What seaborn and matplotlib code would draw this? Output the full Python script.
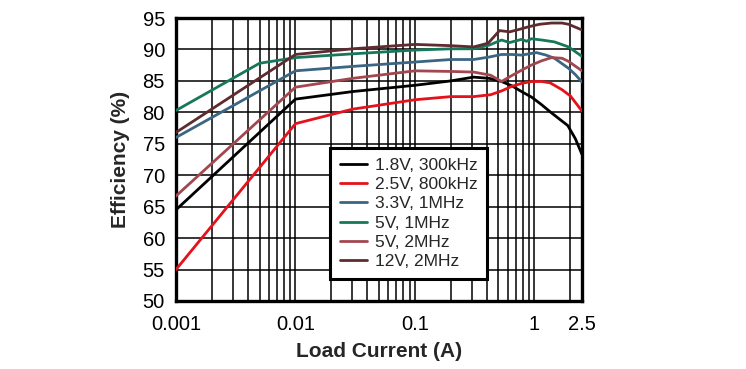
import matplotlib
matplotlib.use("Agg")
import matplotlib.pyplot as plt
import seaborn as sns
import pandas as pd
import numpy as np
from matplotlib.ticker import FixedLocator, NullFormatter

sns.set_theme(style="white")
plt.rcParams['font.family'] = ['Liberation Sans', 'DejaVu Sans']

labels = ["1.8V, 300kHz", "2.5V, 800kHz", "3.3V, 1MHz", "5V, 1MHz", "5V, 2MHz", "12V, 2MHz"]
colors = ["#000000", "#E3121B", "#3A6683", "#17775A", "#A2474F", "#5E2B2F"]

x_18 = [0.001, 0.01, 0.03, 0.1, 0.2, 0.31, 0.42, 0.53, 0.65, 0.78, 0.95, 1.15, 1.35, 1.6, 1.9, 2.2, 2.5]
y_18 = [64.5, 82.1, 83.3, 84.3, 85.0, 85.6, 85.4, 84.9, 84.2, 83.3, 82.4, 81.2, 80.1, 79.0, 77.9, 75.8, 73.3]

x_25 = [0.001, 0.01, 0.03, 0.1, 0.2, 0.31, 0.43, 0.53, 0.64, 0.78, 0.94, 1.15, 1.35, 1.7, 2.0, 2.5]
y_25 = [55.0, 78.2, 80.5, 82.0, 82.5, 82.5, 82.8, 83.4, 84.1, 84.6, 84.9, 84.9, 84.7, 83.6, 82.6, 80.2]

x_33 = [0.001, 0.01, 0.03, 0.1, 0.2, 0.31, 0.42, 0.53, 0.65, 0.78, 1.04, 1.25, 1.47, 1.93, 2.2, 2.5]
y_33 = [76.0, 86.6, 87.3, 88.0, 88.4, 88.4, 88.8, 89.2, 89.2, 89.1, 89.5, 89.1, 88.6, 87.0, 86.0, 84.8]

x_5a = [0.001, 0.005, 0.01, 0.03, 0.1, 0.2, 0.31, 0.42, 0.53, 0.62, 0.78, 0.86, 0.94, 1.15, 1.47, 1.93, 2.5]
y_5a = [80.3, 87.8, 88.7, 89.3, 89.9, 90.1, 90.1, 90.7, 91.5, 91.1, 91.6, 91.3, 91.7, 91.5, 91.2, 90.4, 88.9]

x_5b = [0.001, 0.01, 0.03, 0.1, 0.2, 0.31, 0.43, 0.53, 0.64, 0.78, 0.94, 1.15, 1.39, 1.7, 1.93, 2.5]
y_5b = [66.7, 84.0, 85.4, 86.6, 86.5, 86.4, 85.9, 84.9, 85.8, 86.7, 87.5, 88.2, 88.7, 88.6, 88.1, 86.6]

x_12 = [0.001, 0.01, 0.03, 0.1, 0.2, 0.31, 0.41, 0.51, 0.62, 0.75, 0.89, 1.1, 1.39, 1.7, 1.93, 2.5]
y_12 = [76.8, 89.2, 90.1, 90.8, 90.6, 90.4, 91.0, 93.0, 92.8, 93.2, 93.6, 94.0, 94.2, 94.2, 94.0, 93.1]

series = [(x_18, y_18), (x_25, y_25), (x_33, y_33), (x_5a, y_5a), (x_5b, y_5b), (x_12, y_12)]
rows = []
for lab, (xs, ys) in zip(labels, series):
    for xv, yv in zip(xs, ys):
        rows.append({"Load Current (A)": xv, "Efficiency (%)": yv, "series": lab})
df = pd.DataFrame(rows)

fig = plt.figure(figsize=(7.46, 3.69), dpi=100)
ax = fig.add_axes([176/746, 1 - 301/369, (582-176)/746, (301-18)/369])

sns.lineplot(data=df, x="Load Current (A)", y="Efficiency (%)", hue="series",
             hue_order=labels, palette=colors, sort=False, estimator=None,
             units="series", linewidth=2.0, ax=ax, zorder=3)

ax.set_xscale("log")
ax.set_xlim(0.001, 2.5)
ax.set_ylim(50, 95)
ax.set_yticks(np.arange(50, 96, 5))
ax.xaxis.set_major_locator(FixedLocator([0.001, 0.01, 0.1, 1, 2.5]))
ax.set_xticklabels(["0.001", "0.01", "0.1", "1", "2.5"])
minor = [m * 10.0**e for e in range(-3, 1) for m in range(2, 10)]
minor = [v for v in minor if v < 2.5]
ax.xaxis.set_minor_locator(FixedLocator(minor))
ax.xaxis.set_minor_formatter(NullFormatter())

ax.grid(True, which="both", axis="x", color="black", linewidth=1.1)
ax.grid(True, which="major", axis="y", color="black", linewidth=1.1)
ax.set_axisbelow(True)
for s in ax.spines.values():
    s.set_visible(True)
    s.set_color("black")
    s.set_linewidth(2.4)
ax.tick_params(axis="both", which="both", length=0, labelsize=14.5, colors="black")
ax.tick_params(axis="x", pad=10)
ax.tick_params(axis="y", pad=8)

ax.set_xlabel("Load Current (A)", fontsize=15, fontweight="bold", labelpad=6)
ax.set_ylabel("Efficiency (%)", fontsize=15, fontweight="bold", labelpad=9)

handles, labs = ax.get_legend_handles_labels()
leg = ax.legend(handles, labs, loc="upper left", bbox_to_anchor=((330-176)/406, (301-148)/283),
                fontsize=12.5, frameon=True, fancybox=False, borderpad=0.55,
                handlelength=1.6, handletextpad=0.45, labelspacing=0.24,
                borderaxespad=0)
leg.get_frame().set_edgecolor("black")
leg.get_frame().set_linewidth(2.2)
leg.get_frame().set_facecolor("white")
leg.get_frame().set_alpha(1)
leg.set_zorder(5)

fig.savefig("out.png", dpi=100)
